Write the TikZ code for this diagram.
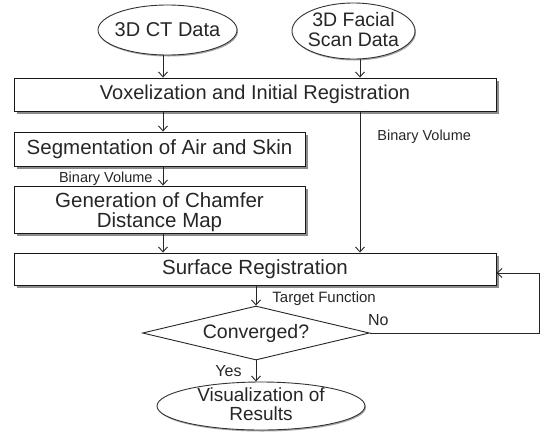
\documentclass[tikz,border=0pt]{standalone}
\usepackage{fontspec}
\setmainfont{Liberation Sans}
\usetikzlibrary{shapes.geometric,arrows.meta,shadows}
\begin{document}
\begin{tikzpicture}[x=1pt,y=-1pt,
  line width=0.9pt,
  every node/.style={text=black!85},
  mainfont/.style={font=\fontsize{20.5}{21.5}\selectfont},
  lbl/.style={font=\fontsize{14.5}{16}\selectfont, inner sep=0pt},
  yn/.style={font=\fontsize{16}{18}\selectfont, inner sep=0pt},
  boxshadow/.style={drop shadow={shadow xshift=2.5pt, shadow yshift=-2.5pt, fill=black!45, opacity=1}},
  procbox/.style={draw=black!90, fill=white, rectangle, inner sep=0pt, boxshadow, mainfont, align=center},
  ovalbox/.style={draw=black!80, fill=white, ellipse, inner sep=0pt,
    drop shadow={shadow xshift=1pt, shadow yshift=-1.5pt, fill=black!35, opacity=1}},
  decision/.style={draw=black!85, fill=white, diamond, inner sep=0pt},
  arr/.style={draw=black!85, -{Straight Barb[length=5pt,width=9pt]}}
]
\path[use as bounding box] (0,0) rectangle (545,432);

% column coordinates
\coordinate (L) at (163,0);
\coordinate (R) at (360,0);
\coordinate (fb) at (539,0);

% nodes
\node[ovalbox, minimum width=139pt, minimum height=50pt,
  label={[font=\fontsize{20}{20}\selectfont, align=center]center:3D CT Data}] (ct) at (167.5,30) {};
\node[ovalbox, minimum width=123pt, minimum height=56pt,
  label={[font=\fontsize{19.5}{20}\selectfont, align=center, yshift=1.5pt]center:3D Facial\\Scan Data}] (fs) at (353.5,31) {};

\node[procbox, minimum width=482pt, minimum height=33pt, font=\fontsize{20}{21}\selectfont] (vox) at (255,94.5) {Voxelization and Initial Registration};
\node[procbox, minimum width=291pt, minimum height=34pt] (seg) at (159.5,149) {Segmentation of Air and Skin};
\node[procbox, minimum width=291pt, minimum height=47pt,
  label={[align=center, font=\fontsize{20.5}{20.5}\selectfont, yshift=-2.5pt]center:Generation of Chamfer\\Distance Map}] (cham) at (159.5,209.5) {};
\node[procbox, minimum width=482pt, minimum height=32pt] (surf) at (255,269) {Surface Registration};

\node[decision, minimum width=227pt, minimum height=54pt,
  label={[font=\fontsize{19.5}{21}\selectfont]center:Converged?}] (conv) at (256,333) {};
\node[ovalbox, minimum width=208pt, minimum height=48pt,
  label={[align=center, font=\fontsize{19}{19}\selectfont, yshift=1.5pt]center:Visualization of\\Results}] (vis) at (261,406) {};

% connectors
\draw[arr] (ct.south -| L) -- (vox.north -| L);
\draw[arr] (fs.south -| R) -- (vox.north -| R);
\draw[arr] (vox.south -| L) -- (seg.north -| L);
\draw[arr] (seg.south -| L) -- node[lbl, left=10pt, yshift=-3pt] {Binary Volume} (cham.north -| L);
\draw[arr] (cham.south -| L) -- (surf.north -| L);
\draw[arr] (vox.south -| R) -- node[lbl, pos=0.17, right=17pt, yshift=-1pt] {Binary Volume} (surf.north -| R);
\draw[arr] (surf.south -| conv) -- node[lbl, font=\fontsize{15}{16}\selectfont, right=16pt, yshift=-3pt] {Target Function} (conv.north);
\draw[arr] (conv.east) -- node[yn, pos=0.05, above=7pt] {No} (conv.east -| fb)
  -- ([yshift=-4pt]surf.east -| fb) -- ([yshift=-4pt]surf.east);
\draw[arr] (conv.south) -- node[yn, left=14pt] {Yes} (conv.south |- vis.north);
\end{tikzpicture}
\end{document}
